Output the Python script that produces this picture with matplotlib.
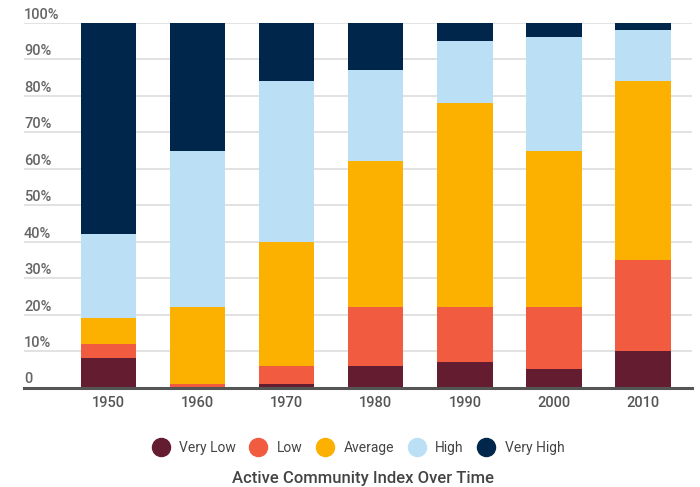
import matplotlib.pyplot as plt
from matplotlib.lines import Line2D
from matplotlib.transforms import offset_copy
import numpy as np

years = ['1950', '1960', '1970', '1980', '1990', '2000', '2010']
categories = ['Very Low', 'Low', 'Average', 'High', 'Very High']
very_low = [8, 0, 1, 6, 7, 5, 10]
low = [4, 1, 5, 16, 15, 17, 25]
average = [7, 21, 34, 40, 56, 43, 49]
high = [23, 43, 44, 25, 17, 31, 14]
very_high = [58, 35, 16, 13, 5, 4, 2]
y_ticks = [0, 10, 20, 30, 40, 50, 60, 70, 80, 90, 100]
y_labels = ['0', '10%', '20%', '30%', '40%', '50%', '60%', '70%', '80%', '90%', '100%']

colors = ['#641c31', '#f15b40', '#fcb000', '#bbe0f5', '#00274b']

plt.rcParams['font.family'] = ['Roboto', 'DejaVu Sans']

fig = plt.figure(figsize=(7, 4.87), dpi=100)
ax = fig.add_axes([0.0343, 0.204, 0.9543, 0.749])

x = np.arange(len(years))
series = [very_low, low, average, high, very_high]
bottom = np.zeros(len(years))
for vals, col in zip(series, colors):
    ax.bar(x, vals, bottom=bottom, width=0.62, color=col, zorder=3)
    bottom += np.array(vals)

ax.set_xlim(-0.95, 6.55)
ax.set_ylim(0, 100)

# gridlines
for t in y_ticks[1:]:
    ax.axhline(t, color='#e2e2e2', linewidth=1.4, zorder=1)
ax.axhline(0, color='#555555', linewidth=2.2, zorder=4, clip_on=False)

# y labels sit just above gridlines
lbl_trans = offset_copy(ax.get_yaxis_transform(), fig=fig, x=0, y=3, units='points')
for t, lab in zip(y_ticks, y_labels):
    ax.text(0, t, lab, transform=lbl_trans, ha='left', va='baseline',
            fontsize=10.5, color='#666666', fontweight='medium')

ax.set_yticks([])
ax.set_xticks(x)
ax.set_xticklabels(years, fontsize=10.5, color='#555555', fontweight='medium')
ax.tick_params(axis='x', length=0, pad=6)
for s in ax.spines.values():
    s.set_visible(False)

handles = [Line2D([0], [0], marker='o', linestyle='none', markersize=13,
                  markerfacecolor=c, markeredgecolor=c) for c in colors]
fig.legend(handles, categories, loc='center', bbox_to_anchor=(0.508, 0.08),
           ncol=5, frameon=False, fontsize=10, handletextpad=0.35,
           columnspacing=0.6, labelcolor='#444444')

fig.text(0.519, 0.018, 'Active Community Index Over Time', ha='center', va='center',
         fontsize=12, color='#444444', fontweight='medium')

fig.savefig('out.png', dpi=100)
